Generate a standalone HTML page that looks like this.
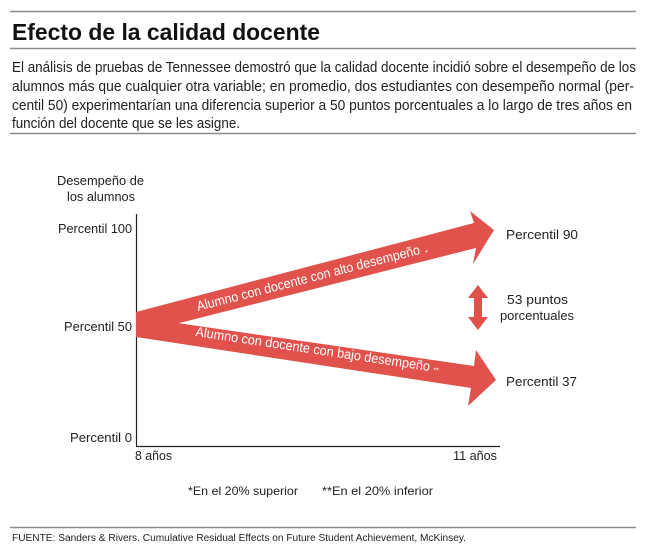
<!DOCTYPE html>
<html><head><meta charset="utf-8"><style>
body{margin:0;background:#fff;}
svg{display:block;font-family:"Liberation Sans",sans-serif;}
</style></head><body>
<svg width="650" height="558" viewBox="0 0 650 558" xmlns="http://www.w3.org/2000/svg">
<g stroke="#8a8a8a" stroke-width="1.5">
<line x1="10" y1="11.5" x2="636" y2="11.5"/>
<line x1="10" y1="48.5" x2="636" y2="48.5"/>
<line x1="10" y1="133.5" x2="636" y2="133.5"/>
<line x1="10" y1="527.5" x2="636" y2="527.5"/>
</g>
<text x="12" y="40" font-size="23" font-weight="bold" fill="#111" textLength="308" lengthAdjust="spacingAndGlyphs">Efecto de la calidad docente</text>
<g font-size="14.5" fill="#222">
<text x="12" y="72" textLength="624" lengthAdjust="spacingAndGlyphs">El análisis de pruebas de Tennessee demostró que la calidad docente incidió sobre el desempeño de los</text>
<text x="12" y="91" textLength="622" lengthAdjust="spacingAndGlyphs">alumnos más que cualquier otra variable; en promedio, dos estudiantes con desempeño normal (per-</text>
<text x="12" y="110" textLength="620" lengthAdjust="spacingAndGlyphs">centil 50) experimentarían una diferencia superior a 50 puntos porcentuales a lo largo de tres años en</text>
<text x="12" y="128" textLength="228" lengthAdjust="spacingAndGlyphs">función del docente que se les asigne.</text>
</g>
<g font-size="13" fill="#222">
<text x="57" y="185" textLength="87" lengthAdjust="spacingAndGlyphs">Desempeño de</text>
<text x="67" y="201" textLength="68" lengthAdjust="spacingAndGlyphs">los alumnos</text>
<text x="58" y="233" textLength="74" lengthAdjust="spacingAndGlyphs">Percentil 100</text>
<text x="64" y="331" textLength="68" lengthAdjust="spacingAndGlyphs">Percentil 50</text>
<text x="70" y="442" textLength="62" lengthAdjust="spacingAndGlyphs">Percentil 0</text>
<text x="135" y="460" textLength="37" lengthAdjust="spacingAndGlyphs">8 años</text>
<text x="453" y="460" textLength="44" lengthAdjust="spacingAndGlyphs">11 años</text>
<text x="506" y="239" textLength="72" lengthAdjust="spacingAndGlyphs">Percentil 90</text>
<text x="507" y="304" textLength="61" lengthAdjust="spacingAndGlyphs">53 puntos</text>
<text x="500" y="320" textLength="74" lengthAdjust="spacingAndGlyphs">porcentuales</text>
<text x="506" y="386" textLength="71" lengthAdjust="spacingAndGlyphs">Percentil 37</text>
</g>
<g font-size="12" fill="#222">
<text x="188" y="495" textLength="110" lengthAdjust="spacingAndGlyphs">*En el 20% superior</text>
<text x="322" y="495" textLength="111" lengthAdjust="spacingAndGlyphs">**En el 20% inferior</text>
<text x="12" y="541" font-size="10" textLength="454" lengthAdjust="spacingAndGlyphs">FUENTE: Sanders &amp; Rivers. Cumulative Residual Effects on Future Student Achievement, McKinsey.</text>
</g>
<g stroke="#222" stroke-width="1.2" fill="none">
<line x1="136.5" y1="214" x2="136.5" y2="446"/>
<line x1="136" y1="446.5" x2="500" y2="446.5"/>
</g>
<g fill="#e0524b">
<polygon points="136,312 474,223 470,211 494,230 473,264 476,248 136,334"/>
<polygon points="136,317 474,366 476,350 496,380 468,406 471,388 136,337"/>
<polygon points="478,285 488,298 482,298 482,317 488,317 478,330 468,317 474,317 474,298 468,298"/>
</g>
<g fill="#fff" font-size="13.5">
<text x="0" y="0" transform="translate(198,311) rotate(-14.4)" textLength="230" lengthAdjust="spacingAndGlyphs">Alumno con docente con alto desempeño</text>
<text x="0" y="0" font-size="7" transform="translate(426,255) rotate(-14.4)">*</text>
<text x="0" y="0" transform="translate(195,336) rotate(8.5)" textLength="237" lengthAdjust="spacingAndGlyphs">Alumno con docente con bajo desempeño</text>
<text x="0" y="0" font-size="7" transform="translate(433,372) rotate(8.5)">**</text>
</g>
</svg>
</body></html>
